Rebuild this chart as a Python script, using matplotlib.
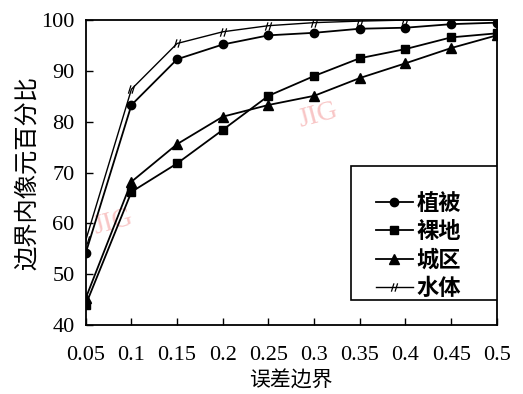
import matplotlib
matplotlib.use("Agg")
import matplotlib.pyplot as plt
from matplotlib.path import Path
from matplotlib.patches import Rectangle

plt.rcParams['font.family'] = ['Liberation Serif', 'Noto Sans CJK SC', 'DejaVu Sans']

x = [0.05, 0.1, 0.15, 0.2, 0.25, 0.3, 0.35, 0.4, 0.45, 0.5]
veg = [54.2, 83.3, 92.3, 95.2, 97.0, 97.5, 98.3, 98.5, 99.2, 99.5]
bare = [44.0, 66.2, 71.8, 78.4, 85.1, 89.0, 92.5, 94.3, 96.6, 97.4]
urban = [45.3, 68.2, 75.6, 81.0, 83.3, 85.1, 88.6, 91.5, 94.5, 97.0]
water = [56.7, 86.4, 95.4, 97.7, 98.9, 99.5, 99.8, 100.0, 100.0, 100.0]
names = ['植被', '裸地', '城区', '水体']
xticks = ['0.05', '0.1', '0.15', '0.2', '0.25', '0.3', '0.35', '0.4', '0.45', '0.5']

# two short slanted strokes, like the "〃" mark on the water line
tick_mark = Path([(-0.6, -0.8), (-0.1, 0.8), (0.1, -0.8), (0.6, 0.8)],
                 [Path.MOVETO, Path.LINETO, Path.MOVETO, Path.LINETO])

fig = plt.figure(figsize=(5.23, 3.94), dpi=100)
ax = fig.add_axes([0.164, 0.175, 0.786, 0.774])

ax.plot(x, veg, color='black', lw=1.3, marker='o', ms=6, label=names[0])
ax.plot(x, bare, color='black', lw=1.3, marker='s', ms=5.5, label=names[1])
ax.plot(x, urban, color='black', lw=1.3, marker='^', ms=7, label=names[2])
ax.plot(x, water, color='black', lw=1.0, marker=tick_mark, ms=6, mew=0.9, label=names[3])

ax.set_xlim(0.05, 0.5)
ax.set_ylim(40, 100)
ax.set_xticks(x)
ax.set_xticklabels(xticks)
ax.set_yticks([40, 50, 60, 70, 80, 90, 100])
ax.tick_params(direction='in', length=5, width=1, labelsize=16)
ax.tick_params(axis='x', pad=15)
ax.tick_params(axis='y', pad=8)
for s in ax.spines.values():
    s.set_linewidth(1.3)

ax.set_xlabel('误差边界', fontsize=15, labelpad=5)
ax.set_ylabel('边界内像元百分比', fontsize=17.5, labelpad=2)

# legend frame drawn by hand so its padding matches the source
ax.add_patch(Rectangle((0.645, 0.082), 0.355, 0.439, transform=ax.transAxes,
                       fill=True, facecolor='white', edgecolor='black', lw=1.2, zorder=4))
leg = ax.legend(loc='upper left', bbox_to_anchor=(0.705, 0.43), borderaxespad=0,
                prop={'size': 16, 'weight': 'bold'}, frameon=False,
                handlelength=1.7, borderpad=0, labelspacing=0.32, handletextpad=0.15)
leg.set_zorder(5)

# faint watermarks from the source image
ax.text(0.28, 79, 'JIG', color='#f4a0a0', fontsize=20, rotation=15, alpha=0.6, zorder=0)
ax.text(0.055, 58, 'JIG', color='#f4a0a0', fontsize=20, rotation=15, alpha=0.6, zorder=0)

fig.savefig('out.png', dpi=100)
